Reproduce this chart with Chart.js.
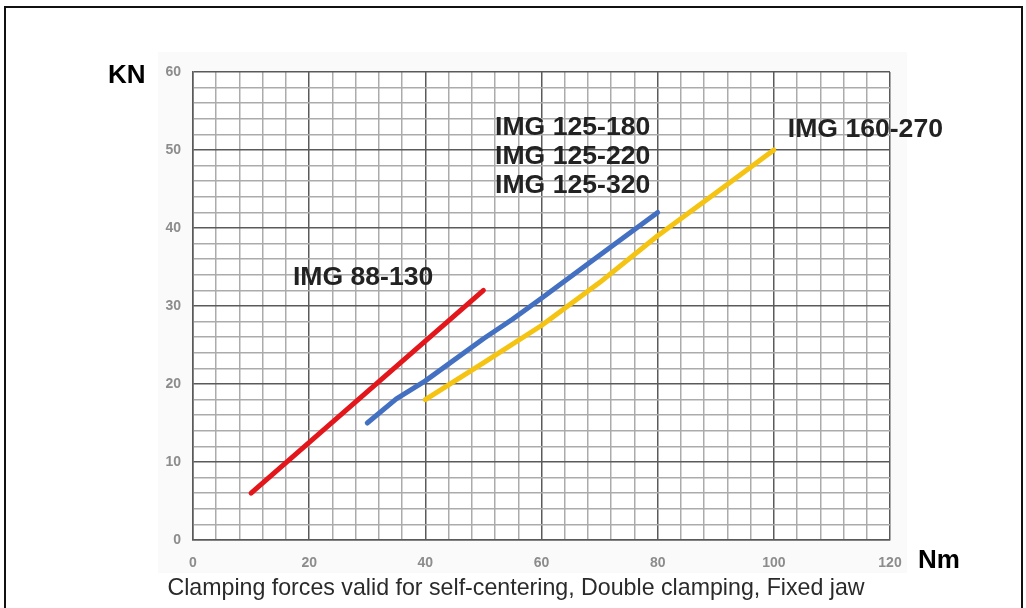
<!DOCTYPE html>
<html>
<head>
<meta charset="utf-8">
<script src="https://cdn.jsdelivr.net/npm/chart.js@4"></script>
<style>
  html, body { margin: 0; padding: 0; background: #fff; overflow: hidden; }
  #wrap { position: relative; width: 1026px; height: 608px; }
  #frame {
    position: absolute; left: 4px; top: 6px; width: 1015px; height: 640px;
    border: 2px solid #111; pointer-events: none;
  }
  canvas { position: absolute; left: 0; top: 0; }
</style>
</head>
<body>
<div id="wrap">
  <canvas id="forceChart" width="1026" height="608"></canvas>
  <div id="frame"></div>
</div>
<script>
// torque (Nm) -> clamping force (KN)
const img88 = [
  { x: 10, y: 6 },
  { x: 50, y: 32 },
];
const img125 = [
  { x: 30, y: 15 },
  { x: 35, y: 18.1 },
  { x: 40, y: 20.4 },
  { x: 50, y: 25.8 },
  { x: 55, y: 28.3 },
  { x: 60, y: 31 },
  { x: 70, y: 36.5 },
  { x: 80, y: 42 },
];
const img160 = [
  { x: 40, y: 18 },
  { x: 50, y: 22.7 },
  { x: 60, y: 27.5 },
  { x: 70, y: 33 },
  { x: 80, y: 39 },
  { x: 90, y: 44.5 },
  { x: 100, y: 50 },
];

const xTickLabels = [0, 20, 40, 60, 80, 100, 120];
const yTickLabels = [0, 10, 20, 30, 40, 50, 60];

// series labels, anchored in data units (left edge, vertical middle)
const seriesLabels = [
  { text: "IMG 88-130", x: 17.2, y: 33.6 },
  { text: "IMG 125-180", x: 52.0, y: 52.9 },
  { text: "IMG 125-220", x: 52.0, y: 49.1 },
  { text: "IMG 125-320", x: 52.0, y: 45.4 },
  { text: "IMG 160-270", x: 102.4, y: 52.6 },
];

const minorGrid = "#ababab";
const majorGrid = "#5a5a5a";
const tickColor = "#8c8c8c";

// faint grey sheet behind the graph, like the scanned original
const paperPlugin = {
  id: "paper",
  beforeDraw(chart) {
    const { ctx, chartArea } = chart;
    ctx.save();
    ctx.fillStyle = "#fafafa";
    ctx.fillRect(chartArea.left - 35, chartArea.top - 20, chartArea.right - chartArea.left + 52, chartArea.bottom - chartArea.top + 53);
    ctx.fillStyle = "#ffffff";
    ctx.fillRect(chartArea.left, chartArea.top, chartArea.right - chartArea.left, chartArea.bottom - chartArea.top);
    ctx.restore();
  },
};

const textPlugin = {
  id: "texts",
  afterDraw(chart) {
    const { ctx, scales } = chart;
    ctx.save();
    ctx.fillStyle = "#222";
    ctx.textBaseline = "middle";
    ctx.textAlign = "left";
    ctx.font = "bold 26.6px 'Liberation Sans', Arial, sans-serif";
    seriesLabels.forEach((l) => {
      ctx.fillText(l.text, scales.x.getPixelForValue(l.x), scales.y.getPixelForValue(l.y));
    });
    ctx.fillStyle = "#000";
    ctx.font = "bold 26px 'Liberation Sans', Arial, sans-serif";
    ctx.fillText("KN", 108, 76);
    ctx.fillText("Nm", 918, 561);
    ctx.fillStyle = "#2a2a2a";
    ctx.textAlign = "center";
    ctx.font = "23.2px 'Liberation Sans', Arial, sans-serif";
    ctx.fillText("Clamping forces valid for self-centering, Double clamping, Fixed jaw", 516, 589);
    ctx.restore();
  },
};

const ctx = document.getElementById("forceChart").getContext("2d");

new Chart(ctx, {
  type: "line",
  data: {
    datasets: [
      {
        label: "IMG 88-130",
        data: img88,
        borderColor: "#e3161b",
        borderWidth: 5,
      },
      {
        label: "IMG 125-180 / 125-220 / 125-320",
        data: img125,
        borderColor: "#4470c2",
        borderWidth: 5,
      },
      {
        label: "IMG 160-270",
        data: img160,
        borderColor: "#f5c312",
        borderWidth: 5,
      },
    ],
  },
  options: {
    responsive: false,
    animation: false,
    devicePixelRatio: 1,
    elements: {
      point: { radius: 0 },
      line: { tension: 0, borderCapStyle: "round", borderJoinStyle: "round" },
    },
    layout: {
      padding: { top: 72, right: 136, left: 0, bottom: 0 },
    },
    plugins: {
      legend: { display: false },
      tooltip: { enabled: false },
    },
    scales: {
      x: {
        type: "linear",
        min: 0,
        max: 120,
        afterFit: (scale) => {
          scale.height = 68;
        },
        border: { color: majorGrid, width: 1.5 },
        grid: {
          drawTicks: false,
          lineWidth: 1.5,
          color: (c) => (c.tick && c.tick.value % 20 === 0 ? majorGrid : minorGrid),
        },
        ticks: {
          stepSize: 4,
          autoSkip: false,
          maxRotation: 0,
          padding: 15,
          color: tickColor,
          font: { family: "'Liberation Sans', Arial, sans-serif", size: 14, weight: "bold" },
          callback: (v) => (xTickLabels.includes(v) ? String(v) : ""),
        },
      },
      y: {
        min: 0,
        max: 60,
        afterFit: (scale) => {
          scale.width = 193;
        },
        border: { color: majorGrid, width: 1.5 },
        grid: {
          drawTicks: false,
          lineWidth: 1.5,
          color: (c) => (c.tick && c.tick.value % 10 === 0 ? majorGrid : minorGrid),
        },
        ticks: {
          stepSize: 2,
          autoSkip: false,
          padding: 12,
          color: tickColor,
          font: { family: "'Liberation Sans', Arial, sans-serif", size: 14, weight: "bold" },
          callback: (v) => (yTickLabels.includes(v) ? String(v) : ""),
        },
      },
    },
  },
  plugins: [paperPlugin, textPlugin],
});
</script>
</body>
</html>
